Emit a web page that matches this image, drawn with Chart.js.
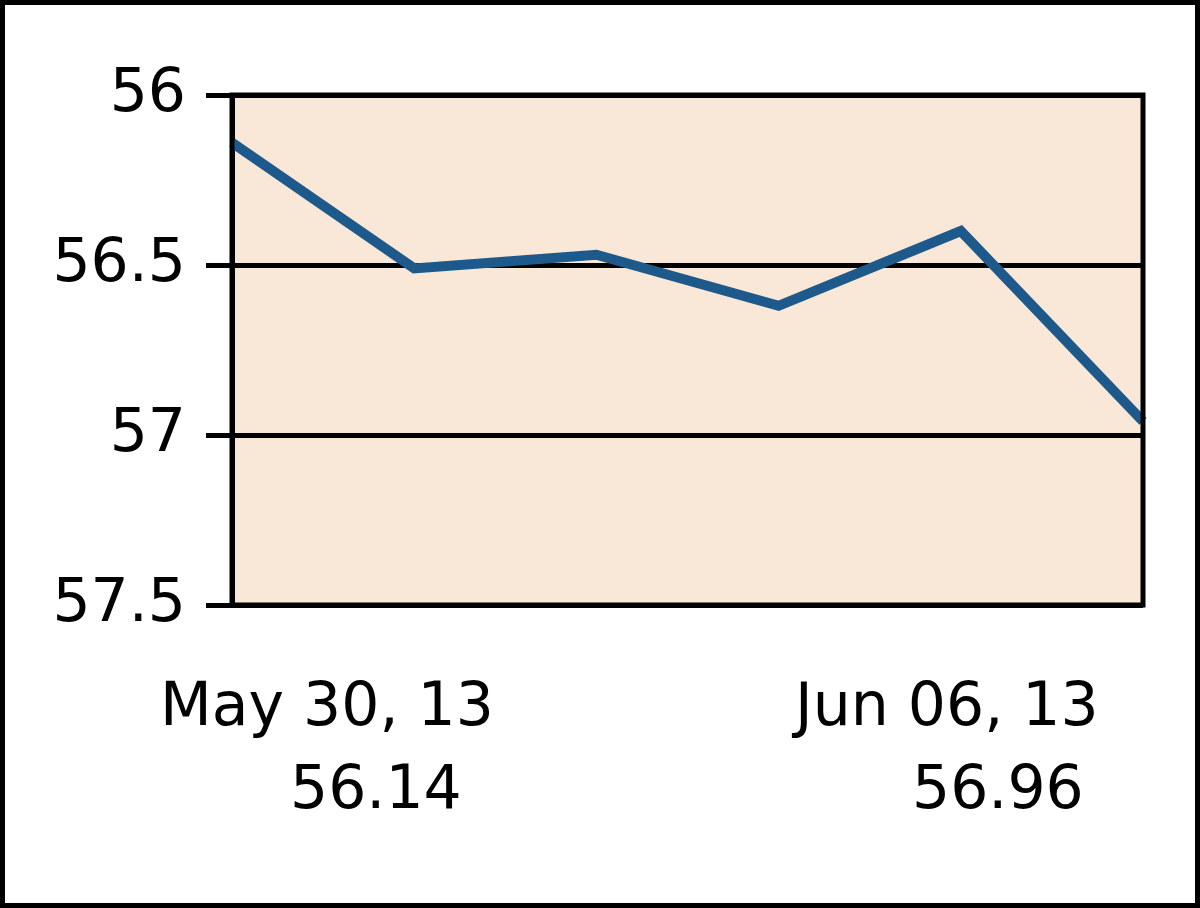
<!DOCTYPE html>
<html>
<head>
<meta charset="utf-8">
<script src="https://cdn.jsdelivr.net/npm/chart.js@4.4.1/dist/chart.umd.min.js"></script>
<style>
  html, body { margin: 0; padding: 0; background: #fff; }
  #frame {
    position: relative; width: 1200px; height: 908px;
    box-sizing: border-box; border: 5px solid #000; background: #fff;
  }
  #chart { position: absolute; left: -5px; top: -5px; }
  .xlab {
    position: absolute; font-family: "DejaVu Sans", sans-serif; font-size: 60px;
    color: #000; white-space: pre; line-height: 60px;
  }
</style>
</head>
<body>
<div id="frame">
  <canvas id="chart" width="1200" height="908"></canvas>
  <div class="xlab" style="left:155px; top:669px;">May 30, 13</div>
  <div class="xlab" style="left:285px; top:752px;">56.14</div>
  <div class="xlab" style="left:790px; top:669px;">Jun 06, 13</div>
  <div class="xlab" style="left:907px; top:752px;">56.96</div>
</div>
<script>
    "use strict";

    // six trading days, only first and last are labelled on the chart
    var days = ['May 30, 13', 'May 31, 13', 'Jun 03, 13', 'Jun 04, 13', 'Jun 05, 13', 'Jun 06, 13'];
    var closes = [56.14, 56.51, 56.47, 56.62, 56.40, 56.96];
    var yTicks = [56, 56.5, 57, 57.5];

    var plotBg = {
        id: 'plotBg',
        beforeDraw: function (chart) {
            var a = chart.chartArea, ctx = chart.ctx;
            ctx.save();
            ctx.fillStyle = '#f9e8d8';
            ctx.fillRect(a.left, a.top, a.right - a.left, a.bottom - a.top);
            ctx.restore();
        },
        afterDraw: function (chart) {
            var a = chart.chartArea, ctx = chart.ctx;
            ctx.save();
            ctx.strokeStyle = '#000';
            ctx.lineWidth = 5;
            ctx.strokeRect(a.left, a.top, a.right - a.left, a.bottom - a.top);
            ctx.restore();
        }
    };

    new Chart(document.getElementById('chart').getContext('2d'), {
        type: 'line',
        data: {
            labels: days,
            datasets: [{
                data: closes,
                borderColor: '#1d5a8b',
                borderWidth: 10,
                pointRadius: 0,
                tension: 0,
                fill: false
            }]
        },
        options: {
            responsive: false,
            animation: false,
            layout: { padding: { left: 0, top: 95, right: 57, bottom: 303 } },
            plugins: { legend: { display: false }, tooltip: { enabled: false } },
            scales: {
                x: { display: false },
                y: {
                    reverse: true,
                    min: yTicks[0],
                    max: yTicks[yTicks.length - 1],
                    afterBuildTicks: function (scale) {
                        scale.ticks = yTicks.map(function (v) { return { value: v }; });
                    },
                    afterFit: function (scale) { scale.width = 232; },
                    border: { display: true, color: '#000', width: 5 },
                    grid: { color: '#000', lineWidth: 5, tickLength: 26, drawTicks: true },
                    ticks: {
                        color: '#000',
                        padding: 20,
                        font: { family: 'DejaVu Sans', size: 60 },
                        callback: function (v) { return String(v); }
                    }
                }
            }
        },
        plugins: [plotBg]
    });
</script>
</body>
</html>
